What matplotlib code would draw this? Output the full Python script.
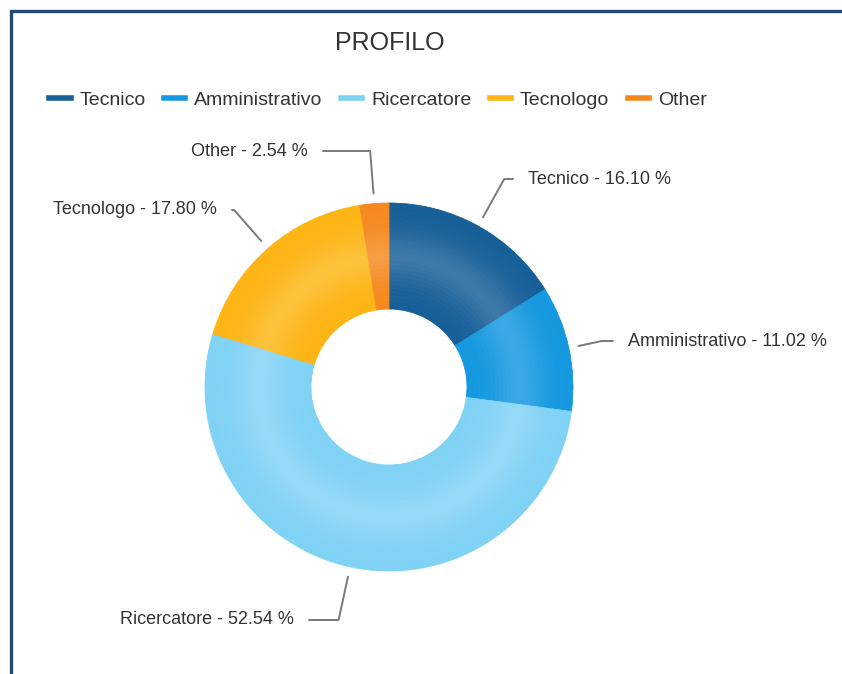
import numpy as np
import matplotlib
matplotlib.use('Agg')
import matplotlib.pyplot as plt
from matplotlib.lines import Line2D
from matplotlib.colors import to_rgb

# ─── DATA ────────────────────────────────────────────────────────────────────
categories = ['Tecnico', 'Amministrativo', 'Ricercatore', 'Tecnologo', 'Other']
shares = [16.10, 11.02, 52.54, 17.80, 2.54]
colors = ['#175f98', '#1598e0', '#80d2f5', '#fdb515', '#f5891f']

# ─── LAYOUT (pixels, y pointing down) ────────────────────────────────────────
W, H = 842, 674
CX, CY = 389, 387
R_OUT, R_IN = 184, 78
# label anchor: (x, y, ha)
label_pos = {
    'Tecnico':        (528, 179, 'left'),
    'Amministrativo': (628, 341, 'left'),
    'Ricercatore':    (294, 620, 'right'),
    'Tecnologo':      (217, 210, 'right'),
    'Other':          (308, 151, 'right'),
}
TXT = '#333333'
plt.rcParams['font.family'] = ['Liberation Sans', 'DejaVu Sans']

fig = plt.figure(figsize=(W / 100, H / 100), dpi=100)
ax = fig.add_axes([0, 0, 1, 1])

width = R_OUT - R_IN
base = np.array([to_rgb(c) for c in colors])

# ring drawn as thin concentric bands, lighter toward the middle radius
# (y axis is inverted later, so startangle=-90 + counterclock -> clockwise from top)
nb = 26
for k in range(nb):
    f = (k + 0.5) / nb
    light = 0.16 * np.exp(-((f - 0.5) / 0.22) ** 2)
    cols = base + (1 - base) * light
    r = R_IN + width * (k + 1) / nb
    wedges, _ = ax.pie(shares, colors=cols, radius=r, center=(CX, CY), startangle=-90,
                       counterclock=True, wedgeprops=dict(width=width / nb, linewidth=0.6))
    for w_, c in zip(wedges, cols):
        w_.set_edgecolor(c)

# labels with leader lines
cum = np.cumsum([0] + shares[:-1])
total = sum(shares)
for name, s, c0 in zip(categories, shares, cum):
    phi = np.deg2rad((c0 + s / 2) / total * 360)
    ux, uy = np.sin(phi), -np.cos(phi)
    sx, sy = CX + (R_OUT + 10) * ux, CY + (R_OUT + 10) * uy
    tx, ty, ha = label_pos[name]
    t = (ty - CY) / uy
    ex, ey = CX + t * ux, ty
    if ha == 'left':
        endx = tx - 15
        ex = min(ex, endx)
    else:
        endx = tx + 15
        ex = max(ex, endx)
    ax.plot([sx, ex, endx], [sy, ey, ey], color='#7a7a7a', lw=1.4,
            solid_capstyle='round', solid_joinstyle='round')
    ax.text(tx, ty, f'{name} - {s:.2f} %', ha=ha, va='center', fontsize=13, color=TXT)

# title
ax.text(390, 43, 'PROFILO', ha='center', va='center', fontsize=18, color=TXT)

# legend
handles = [Line2D([0], [0], color=c, lw=4) for c in colors]
ax.legend(handles, categories, loc='center', bbox_to_anchor=(378 / W, 1 - 100 / H),
          ncol=5, frameon=False, fontsize=14, handlelength=1.1, handletextpad=0.45,
          columnspacing=0.95, labelcolor=TXT)

# frame border (top + left)
ax.plot([11, 11, W], [H, 11, 11], color='#1f4a73', lw=2.4, solid_joinstyle='miter')

ax.set_xlim(0, W)
ax.set_ylim(H, 0)
ax.set_aspect('auto')
ax.axis('off')

fig.savefig('out.png', dpi=100)
